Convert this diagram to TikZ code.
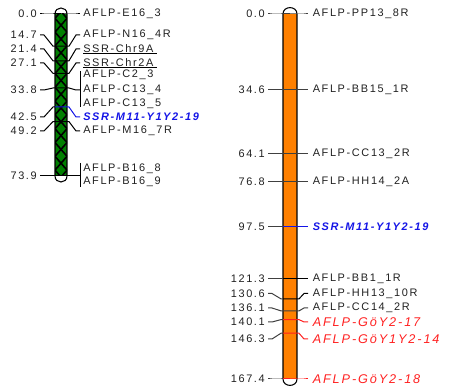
\documentclass[tikz,border=0pt]{standalone}
\usepackage{fontspec}
\setmainfont{Liberation Sans}
\newfontfamily\lbf{Liberation Sans}[LetterSpace=15]
\definecolor{txt}{HTML}{202020}
\definecolor{tkc}{HTML}{404040}
\definecolor{mred}{HTML}{FF2020}
\definecolor{mblue}{HTML}{1414E6}
\definecolor{chgreen}{HTML}{008000}
\definecolor{chorange}{HTML}{FF8000}
\begin{document}
\begin{tikzpicture}[x=0.75pt,y=-0.75pt,
  num/.style={anchor=east,inner sep=0pt,text=txt,font=\lbf\fontsize{8.2}{9}\selectfont},
  lab/.style={anchor=west,inner sep=0pt,text=txt,font=\lbf\fontsize{8.2}{9}\selectfont},
  redlab/.style={text=mred,font=\lbf\itshape\fontsize{9.5}{10}\selectfont},
  bluelab/.style={text=mblue,font=\lbf\bfseries\itshape\fontsize{8.2}{9}\selectfont},
  blk/.style={text=txt},
  tick/.style={draw=tkc,line width=0.75pt},
  chrom/.style={draw=black,line width=0.8pt},
]
\useasboundingbox (0,0) rectangle (450,388);
% ---------- right chromosome ----------
\fill[chorange] (283,14) rectangle (297,379);
\draw[chrom] (283,14) -- (283,379) .. controls (283,387.5) and (297,387.5) .. (297,379) -- (297,14) .. controls (297,5.5) and (283,5.5) .. (283,14) -- cycle;
\newcommand\rmk[7]{% id, true y, label y, number, text, label style, line colour
  \node[num] (rn#1) at (265,#3) {#4};
  \node[lab,#6] (rl#1) at (312.5,#3) {#5};
  \coordinate (ra#1) at (268,#3);
  \coordinate (rb#1) at (283,#2);
  \coordinate (rc#1) at (297,#2);
  \coordinate (rd#1) at (308,#3);
  \draw[tick] (ra#1) -- ++(4,0) -- ([xshift=-1.5]rb#1) -- (rb#1);
  \draw[tick,draw=#7] (rb#1) -- (rc#1) -- ([xshift=1.5]rc#1) -- ([xshift=-3]rd#1) -- (rd#1);
}
\rmk{a}{14}{14}{0.0}{AFLP-PP13\_8R}{blk}{tkc}
\rmk{b}{89.4}{89.4}{34.6}{AFLP-BB15\_1R}{blk}{tkc}
\rmk{c}{153.7}{153.7}{64.1}{AFLP-CC13\_2R}{blk}{tkc}
\rmk{d}{181.4}{181.4}{76.8}{AFLP-HH14\_2A}{blk}{tkc}
\rmk{e}{226.8}{226.8}{97.5}{SSR-M11-Y1Y2-19}{bluelab}{mblue}
\rmk{f}{278.6}{278.6}{121.3}{AFLP-BB1\_1R}{blk}{black}
\rmk{g}{298.9}{293.5}{130.6}{AFLP-HH13\_10R}{blk}{black}
\rmk{h}{310.9}{308}{136.1}{AFLP-CC14\_2R}{blk}{tkc}
\rmk{i}{319.6}{322}{140.1}{AFLP-GöY2-17}{redlab}{mred}
\rmk{j}{333.2}{339}{146.3}{AFLP-GöY1Y2-14}{redlab}{mred}
\rmk{k}{379}{379}{167.4}{AFLP-GöY2-18}{redlab}{mred}
% ---------- left chromosome ----------
\fill[chgreen] (55,14) rectangle (67,176);
\begin{scope}
  \clip (55,14) rectangle (67,176);
  \foreach \k in {0,...,13} {
    \draw[black,line width=1.2pt] (55,{4.5+13.8*\k}) -- (67,{4.5+13.8*(\k+1)});
    \draw[black,line width=1.2pt] (67,{4.5+13.8*\k}) -- (55,{4.5+13.8*(\k+1)});
  }
\end{scope}
\draw[chrom] (55,14) -- (55,176) .. controls (55,184) and (67,184) .. (67,176) -- (67,14) .. controls (67,6) and (55,6) .. (55,14) -- cycle;
\newcommand\lmk[7]{% id, true y, number y, label y, number, text, colour
  \node[num] (ln#1) at (37,#3) {#5};
  \coordinate (la#1) at (40,#3);
  \coordinate (lb#1) at (55,#2);
  \coordinate (lc#1) at (67,#2);
  \coordinate (ld#1) at (80,#4);
  \draw[tick,draw=black] (la#1) -- ++(4,0) -- ([xshift=-1.5]lb#1) -- (lb#1);
  \draw[tick,draw=#7] (lb#1) -- (lc#1) -- ([xshift=1.5]lc#1) -- ([xshift=-3]ld#1) -- (ld#1);
}
\lmk{a}{14}{14}{14}{0.0}{}{black}
\node[lab] (lla) at (83,14) {AFLP-E16\_3};
\lmk{b}{46.2}{35}{35}{14.7}{}{black}
\node[lab] (llb) at (83,35) {AFLP-N16\_4R};
\lmk{c}{60.8}{49}{49}{21.4}{}{black}
\node[lab] (llc) at (83,49) {SSR-Chr9A};
\draw[black,line width=0.6pt] (83,53.8) -- (157,53.8);
\lmk{d}{73.3}{63}{63}{27.1}{}{black}
\node[lab] (lld) at (83,63) {SSR-Chr2A};
\draw[black,line width=0.6pt] (83,67.8) -- (157,67.8);
\lmk{e}{88}{90}{90}{33.8}{}{black}
\draw[tick,draw=black] (80,71) -- (80,107);
\node[lab] (lle1) at (83,75) {AFLP-C2\_3};
\node[lab] (lle2) at (83,90) {AFLP-C13\_4};
\node[lab] (lle3) at (83,104) {AFLP-C13\_5};
\lmk{f}{107}{117}{117}{42.5}{}{mblue}
\node[lab,bluelab] (llf) at (83,117) {SSR-M11-Y1Y2-19};
\lmk{g}{121.6}{131}{131}{49.2}{}{black}
\node[lab] (llg) at (83,131) {AFLP-M16\_7R};
\lmk{h}{175.7}{175.7}{175.7}{73.9}{}{black}
\draw[tick,draw=black] (80,163) -- (80,187);
\node[lab] (llh1) at (83,169) {AFLP-B16\_8};
\node[lab] (llh2) at (83,182) {AFLP-B16\_9};
\end{tikzpicture}
\end{document}
